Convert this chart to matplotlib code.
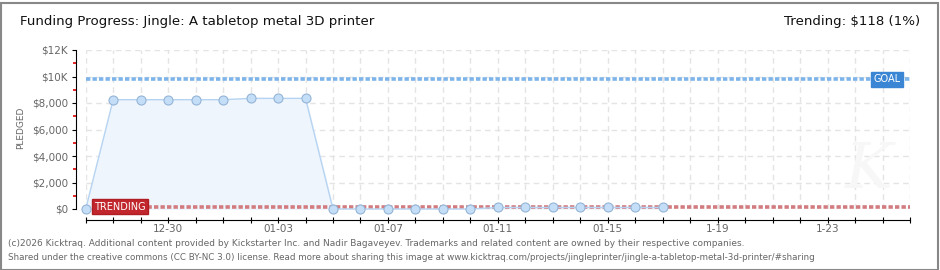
import numpy as np
import pandas as pd
import matplotlib
matplotlib.use("Agg")
import matplotlib.pyplot as plt
import matplotlib.dates as mdates
from matplotlib.patches import Rectangle

plt.rcParams['font.family'] = ['Liberation Sans Narrow', 'DejaVu Sans']

# data
dates = ["2025-12-27", "2025-12-28", "2025-12-29", "2025-12-30", "2025-12-31",
         "2026-01-01", "2026-01-02", "2026-01-03", "2026-01-04", "2026-01-05",
         "2026-01-06", "2026-01-07", "2026-01-08", "2026-01-09", "2026-01-10",
         "2026-01-11", "2026-01-12", "2026-01-13", "2026-01-14", "2026-01-15",
         "2026-01-16", "2026-01-17"]
pledged = [0, 8250, 8250, 8250, 8250, 8250, 8350, 8350, 8350, 0,
           0, 0, 0, 0, 0, 118, 118, 118, 118, 118, 118, 118]
goal = 9800
trending = 118
x_start, x_end = "2025-12-27", "2026-01-26"
trend_start = "2025-12-29"
tick_dates = ["2025-12-30", "2026-01-03", "2026-01-07", "2026-01-11",
              "2026-01-15", "2026-01-19", "2026-01-23"]
tick_labels = ["12-30", "01-03", "01-07", "01-11", "01-15", "1-19", "1-23"]
y_ticks = [0, 2000, 4000, 6000, 8000, 10000, 12000]
y_labels = ["$0", "$2,000", "$4,000", "$6,000", "$8,000", "$10K", "$12K"]

W, H = 940, 270
fig = plt.figure(figsize=(W / 100, H / 100), dpi=100)
ax = fig.add_axes([85.7 / W, (H - 209) / H, (910 - 85.7) / W, (209 - 50) / H])

x = pd.to_datetime(dates)
x0, x1 = pd.Timestamp(x_start), pd.Timestamp(x_end)
days = pd.date_range(x0, x1, freq="D")

# grid
for d in days:
    ax.axvline(d, color="#e4e4e4", lw=1, ls=(0, (4, 3)), zorder=0)
for v in y_ticks:
    ax.axhline(v, color="#e4e4e4", lw=1, ls=(0, (4, 3)), zorder=0)

# watermark
ax.text(pd.Timestamp("2026-01-24") + pd.Timedelta(hours=12), 2900, "K", fontsize=46,
        style="italic", color="#f7f7f7", ha="center", va="center", zorder=0,
        family="DejaVu Serif")

ax.fill_between(x, pledged, 0, color="#eef5fd", zorder=1)
ax.hlines(goal, x0, x1, color="#7db4ea", lw=2.6, ls=(0, (1.2, 0.6)), zorder=2)
ax.hlines(trending, pd.Timestamp(trend_start), x1, color="#d27c80", lw=2.6,
          ls=(0, (1.2, 0.6)), zorder=2)
ax.plot(x, pledged, color="#b6d4f2", lw=1, marker="o", ms=6.5,
        mfc="#c4def8", mec="#94b4d6", mew=0.8, zorder=3, clip_on=False)

ax.text(pd.Timestamp("2025-12-28") + pd.Timedelta(hours=6), trending + 40, "TRENDING",
        fontsize=7, color="white", ha="center", va="center", zorder=5,
        bbox=dict(boxstyle="square,pad=0.25", fc="#c1272d", ec="#b01e24"))
ax.text(pd.Timestamp("2026-01-25") + pd.Timedelta(hours=4), goal, "GOAL",
        fontsize=7, color="white", ha="center", va="center", zorder=5,
        bbox=dict(boxstyle="square,pad=0.25", fc="#3a86d4", ec="#3a86d4"))

ax.set_xlim(x0, x1)
ax.set_ylim(0, 12000)

for s in ["top", "right"]:
    ax.spines[s].set_visible(False)
ax.spines["left"].set_position(("outward", 6.8))
ax.spines["bottom"].set_position(("outward", 7.9))
ax.spines["left"].set_bounds(0, 12000)

ax.set_yticks(y_ticks)
ax.set_yticklabels(y_labels)
ax.set_yticks(np.arange(1000, 12000, 2000), minor=True)
ax.tick_params(axis="y", which="major", length=3, color="black", labelsize=7.5,
               labelcolor="#666666", pad=3)
ax.tick_params(axis="y", which="minor", length=2.5, width=1.2, color="#e00000")

ax.set_xticks(days)
ax.set_xticklabels([""] * len(days))
ax.tick_params(axis="x", which="major", direction="inout", length=5,
               color="black", labelsize=7.5, labelcolor="#666666")
for d, lab in zip(tick_dates, tick_labels):
    ax.annotate(lab, xy=(mdates.date2num(pd.Timestamp(d)), 0),
                xycoords=("data", "axes fraction"),
                xytext=(0, -14.4), textcoords="offset points", ha="center", va="center",
                fontsize=7.5, color="#666666")

fig.text(21 / W, 1 - 128 / H, "PLEDGED", rotation=90, fontsize=6.5, color="#666666",
         ha="center", va="center")
fig.text(20 / W, 1 - 22 / H, "Funding Progress: Jingle: A tabletop metal 3D printer",
         fontsize=9.6, color="#111111", ha="left", va="center")
fig.text(920 / W, 1 - 22 / H, "Trending: $118 (1%)", fontsize=9.6, color="#111111",
         ha="right", va="center")
fig.text(8 / W, 1 - 243 / H,
         "(c)2026 Kicktraq. Additional content provided by Kickstarter Inc. and Nadir Bagaveyev. "
         "Trademarks and related content are owned by their respective companies.",
         fontsize=6.5, color="#666666", ha="left", va="center")
fig.text(8 / W, 1 - 258 / H,
         "Shared under the creative commons (CC BY-NC 3.0) license. Read more about sharing this image at "
         "www.kicktraq.com/projects/jingleprinter/jingle-a-tabletop-metal-3d-printer/#sharing",
         fontsize=6.3, color="#666666", ha="left", va="center")

fig.patches.append(Rectangle((0.5 / W, 0.5 / H), (W - 3) / W, (H - 3) / H,
                             transform=fig.transFigure, fill=False,
                             ec="#888888", lw=1.5))

fig.savefig("out.png", dpi=100)
